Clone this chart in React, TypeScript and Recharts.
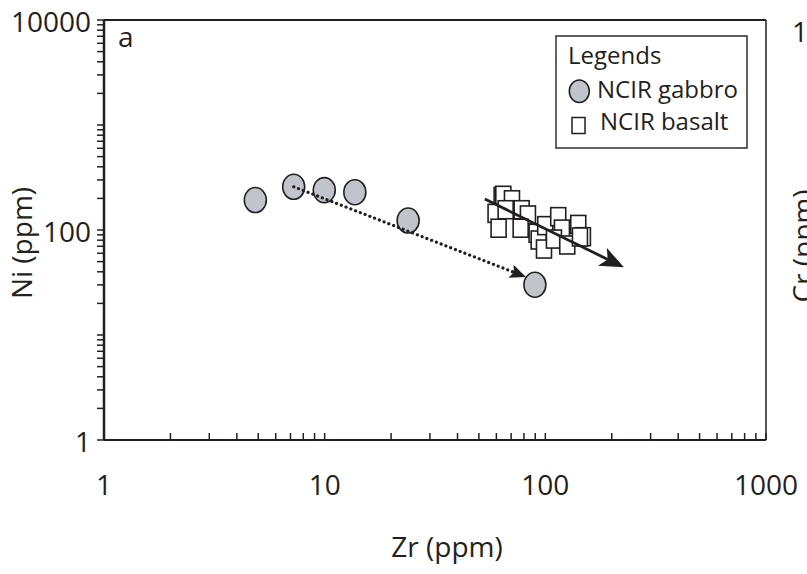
import React from 'react';
import { ScatterChart, Scatter, XAxis, YAxis, ReferenceLine } from 'recharts';

const FONT = '"Open Sans", "DejaVu Sans", sans-serif';
const INK = '#231f20';
const GABBRO_FILL = '#c1c5cb';

// NCIR gabbro (Zr ppm, Ni ppm)
const gabbroZr = [4.85, 7.24, 9.96, 13.7, 23.9, 89.7];
const gabbroNi = [193, 258, 240, 229, 123, 30.1];

// NCIR basalt (Zr ppm, Ni ppm)
const basaltZr = [63.4, 64.5, 70.6, 59.5, 61.4, 66.1, 78.1, 83.4, 77.3, 91.3, 93.3, 98.6, 99.9, 114.4, 118.9, 109.4, 125.7, 141, 148, 143.5];
const basaltNi = [209, 214, 194, 144, 104, 156, 156, 139, 104, 93, 80.3, 65.9, 110, 134, 102, 82, 72, 113, 86.4, 85.8];

// trend arrows (start -> tip)
const gabbroTrendZr = [7.24, 81.7];
const gabbroTrendNi = [258, 35.7];
const basaltTrendZr = [53.2, 227];
const basaltTrendNi = [197, 44.1];

// axis ticks
const xDecades = [1, 10, 100, 1000];
const yDecades = [1, 10, 100, 1000, 10000];
const xLabelled = [1, 10, 100, 1000];
const yLabelled = [1, 100, 10000];

function logTicks(decades: number[]) {
  const out: number[] = [];
  for (let i = 0; i < decades.length - 1; i++) {
    for (let k = 1; k < 10; k++) out.push(decades[i] * k);
  }
  out.push(decades[decades.length - 1]);
  return out;
}
const xTicks = logTicks(xDecades);
const yTicks = logTicks(yDecades);

const gabbroData = gabbroZr.map((zr, i) => ({ zr, ni: gabbroNi[i] }));
const basaltData = basaltZr.map((zr, i) => ({ zr, ni: basaltNi[i] }));
const gabbroTrend = gabbroTrendZr.map((zr, i) => ({ zr, ni: gabbroTrendNi[i] }));
const basaltTrend = basaltTrendZr.map((zr, i) => ({ zr, ni: basaltTrendNi[i] }));

const Ellipse = (p: any) => (
  <ellipse cx={p.cx} cy={p.cy} rx={11} ry={12.5} fill={GABBRO_FILL} stroke={INK} strokeWidth={1.6} />
);
const Square = (p: any) => (
  <rect x={p.cx - 7.5} y={p.cy - 9} width={15} height={18} fill="#ffffff" stroke={INK} strokeWidth={1.6} />
);
const NoDot = () => <g />;

const arrowLine = (dotted: boolean, L: number, W: number, notch: number) => (p: any) => {
  const pts = p.points || [];
  if (pts.length < 2) return <g />;
  const x1 = pts[0].x;
  const y1 = pts[0].y;
  const x2 = pts[1].x;
  const y2 = pts[1].y;
  const dx = x2 - x1;
  const dy = y2 - y1;
  const len = Math.sqrt(dx * dx + dy * dy) || 1;
  const ux = dx / len;
  const uy = dy / len;
  const nx = -uy;
  const ny = ux;
  const bx = x2 - ux * L;
  const by = y2 - uy * L;
  const mx = bx + ux * notch;
  const my = by + uy * notch;
  const poly = `${x2},${y2} ${bx + nx * W},${by + ny * W} ${mx},${my} ${bx - nx * W},${by - ny * W}`;
  return (
    <g>
      <line
        x1={x1}
        y1={y1}
        x2={mx}
        y2={my}
        stroke={INK}
        strokeWidth={dotted ? 3.2 : 2.8}
        strokeDasharray={dotted ? '0.1 5' : undefined}
        strokeLinecap={dotted ? 'round' : 'butt'}
      />
      <polygon points={poly} fill={INK} stroke="none" />
    </g>
  );
};

const XTick = (p: any) => {
  const { x, y, payload } = p;
  const v = payload.value;
  const lab = xLabelled.includes(v);
  return (
    <g>
      <line x1={x} y1={y} x2={x} y2={y - 7} stroke={INK} strokeWidth={1.5} />
      {lab && (
        <text x={x} y={y + 55} textAnchor="middle" fontFamily={FONT} fontSize={28} fill={INK}>
          {String(v)}
        </text>
      )}
    </g>
  );
};

const YTick = (p: any) => {
  const { x, y, payload } = p;
  const v = payload.value;
  if (!yLabelled.includes(v)) return <g />;
  return (
    <text x={x} y={y + 12} textAnchor="end" fontFamily={FONT} fontSize={28} fill={INK}>
      {String(v)}
    </text>
  );
};

export default function App() {
  return (
    <div style={{ position: 'absolute', left: 0, top: 0, width: 807, height: 574, background: '#ffffff' }}>
      <ScatterChart width={807} height={574} margin={{ top: 20, right: 41, bottom: 74, left: 14 }}>
        <XAxis
          type="number"
          dataKey="zr"
          scale="log"
          domain={[1, 1000]}
          ticks={xTicks}
          interval={0}
          allowDataOverflow
          height={60}
          tickSize={0}
          tickMargin={0}
          tickLine={false}
          tick={<XTick />}
          axisLine={{ stroke: INK, strokeWidth: 2 }}
        />
        <YAxis
          type="number"
          dataKey="ni"
          scale="log"
          domain={[1, 10000]}
          ticks={yTicks}
          interval={0}
          allowDataOverflow
          width={90}
          tickSize={7}
          tickMargin={6}
          tickLine={{ stroke: INK, strokeWidth: 1.5 }}
          tick={<YTick />}
          axisLine={{ stroke: INK, strokeWidth: 2.5 }}
        />
        <ReferenceLine y={10000} stroke={INK} strokeWidth={2} />
        <ReferenceLine x={1000} stroke={INK} strokeWidth={1.5} />
        <Scatter name="NCIR gabbro" data={gabbroData} shape={Ellipse} isAnimationActive={false} />
        <Scatter name="NCIR basalt" data={basaltData} shape={Square} isAnimationActive={false} />
        <Scatter
          name="gabbro trend"
          data={gabbroTrend}
          shape={NoDot}
          line={arrowLine(true, 16, 7, 3)}
          isAnimationActive={false}
        />
        <Scatter
          name="basalt trend"
          data={basaltTrend}
          shape={NoDot}
          line={arrowLine(false, 24, 10, 6)}
          isAnimationActive={false}
        />
      </ScatterChart>
      <svg
        width={807}
        height={574}
        style={{ position: 'absolute', left: 0, top: 0, pointerEvents: 'none' }}
        fontFamily={FONT}
        fill={INK}
      >
        <text x={118} y={47} fontSize={28}>a</text>
        <rect x={556} y={36} width={191} height={112} fill="none" stroke={INK} strokeWidth={1.4} />
        <text x={568} y={64} fontSize={24}>Legends</text>
        <ellipse cx={579.3} cy={91.3} rx={10} ry={11.3} fill={GABBRO_FILL} stroke={INK} strokeWidth={1.5} />
        <text x={597} y={98} fontSize={24}>NCIR gabbro</text>
        <rect x={572} y={117.5} width={13} height={16} fill="#ffffff" stroke={INK} strokeWidth={1.5} />
        <text x={600} y={130} fontSize={24}>NCIR basalt</text>
        <text transform="translate(32,243) rotate(-90)" textAnchor="middle" fontSize={28}>Ni (ppm)</text>
        <text x={447} y={557} textAnchor="middle" fontSize={28}>Zr (ppm)</text>
        <text x={792} y={42} fontSize={28}>1</text>
        <text transform="translate(813,246) rotate(-90)" textAnchor="middle" fontSize={28}>Cr (ppm)</text>
      </svg>
    </div>
  );
}
